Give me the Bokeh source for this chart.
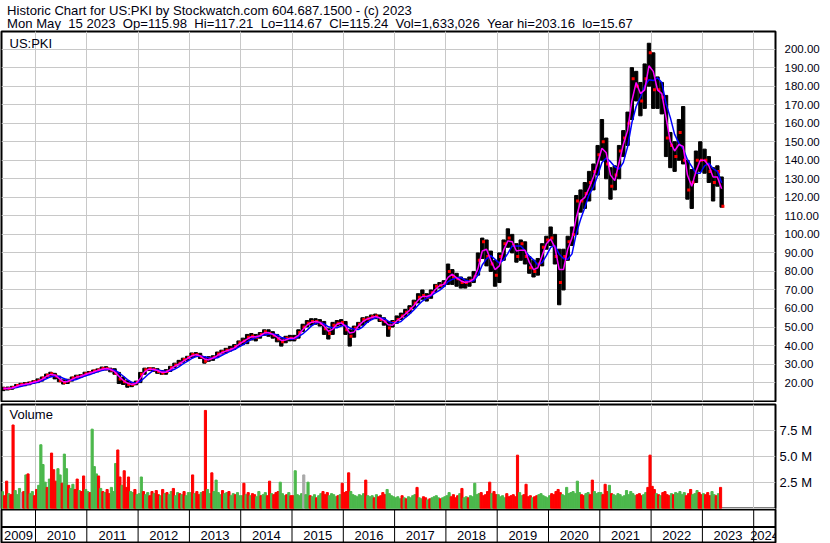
import numpy as np
import pandas as pd
from bokeh.plotting import figure
from bokeh.layouts import column
from bokeh.models import Range1d, FixedTicker, Grid, PrintfTickFormatter
from bokeh.core.properties import value
from bokeh.embed import file_html
from bokeh.resources import INLINE

FONT = "Liberation Sans"
TXT = "#000010"
NB = "\u00a0"

# ---------------- data ----------------
title_line1 = "Historic Chart for US:PKI by Stockwatch.com 604.687.1500 - (c) 2023"
title_line2 = ("Mon May  15 2023  Op=115.98  Hi=117.21  Lo=114.67  Cl=115.24  "
               "Vol=1,633,026  Year hi=203.16  lo=15.67")
symbol = "US:PKI"

# monthly bars, May 2009 .. May 2023
first_year, first_month = 2009, 5
close = [
    16.8, 16.8, 17.3, 18.5, 19.0, 19.2, 19.8, 20.5,
    21.0, 22.5, 24.0, 24.8, 23.5, 21.0, 20.0, 21.0, 22.5, 23.2, 23.6, 24.8,
    25.3, 26.2, 26.8, 27.6, 27.5, 26.8, 25.0, 22.0, 20.5, 19.0, 19.0, 20.0,
    24.5, 27.0, 27.5, 27.0, 26.0, 25.2, 26.0, 28.0, 29.5, 30.5, 32.5, 33.5,
    35.2, 35.0, 34.0, 31.5, 33.0, 33.5, 35.5, 36.5, 37.5, 38.0, 39.5, 41.5,
    42.5, 44.5, 45.0, 44.5, 46.0, 47.5, 46.5, 45.5, 43.5, 42.0, 44.0, 44.0,
    44.0, 47.0, 50.0, 52.0, 53.0, 53.0, 52.0, 49.0, 46.5, 51.0, 52.0, 52.5,
    48.5, 45.0, 49.5, 51.5, 54.0, 54.5, 55.5, 56.0, 54.0, 53.0, 49.5, 52.5,
    54.0, 56.0, 58.0, 60.0, 63.0, 66.0, 67.0, 66.0, 68.5, 72.0, 72.5, 73.5,
    80.0, 77.0, 76.0, 74.0, 74.0, 75.0, 77.0, 86.0, 96.0, 88.0, 84.0, 78.0,
    88.0, 95.0, 98.0, 94.0, 88.0, 95.0, 88.0, 82.0, 80.0, 84.0, 93.0, 97.0,
    98.0, 88.0, 74.0, 88.0, 96.0, 100.0, 118.0, 118.0, 122.0, 128.0, 134.0, 143.0,
    150.0, 138.0, 126.0, 132.0, 145.0, 152.0, 160.0, 184.0, 180.0, 172.0, 184.0, 198.0,
    178.0, 178.0, 174.0, 152.0, 148.0, 142.0, 155.0, 140.0, 124.0, 128.0, 140.0, 140.0,
    140.0, 134.0, 128.0, 134.0, 115.24,
]
high = [
    17.5, 17.6, 18.0, 19.0, 19.6, 20.0, 20.3, 21.0,
    22.0, 23.0, 24.6, 25.6, 25.0, 23.5, 21.5, 21.8, 23.0, 24.0, 24.3, 25.6,
    26.0, 26.8, 27.4, 28.4, 28.6, 27.8, 27.5, 25.5, 23.0, 21.0, 20.2, 20.8,
    25.5, 27.8, 28.0, 28.0, 27.5, 26.5, 27.0, 28.8, 30.5, 32.0, 33.2, 34.2,
    36.0, 36.2, 35.8, 34.0, 34.0, 34.5, 36.5, 37.5, 38.5, 39.5, 40.5, 42.5,
    44.0, 46.0, 46.5, 46.0, 47.0, 48.5, 48.5, 47.5, 46.0, 44.0, 45.0, 45.5,
    45.5, 48.5, 51.5, 53.5, 54.5, 54.5, 54.0, 53.0, 49.0, 52.5, 53.5, 54.0,
    53.0, 48.5, 50.5, 52.5, 55.0, 55.5, 56.5, 57.0, 56.5, 55.0, 53.0, 53.5,
    56.0, 57.5, 59.5, 61.5, 64.5, 68.0, 70.0, 68.0, 70.0, 73.0, 74.0, 75.0,
    84.0, 81.0, 79.0, 77.0, 76.0, 77.0, 80.0, 90.0, 98.0, 97.0, 91.0, 86.0,
    90.0, 97.0, 103.0, 100.0, 95.0, 97.0, 96.0, 88.0, 86.0, 87.0, 95.0, 99.0,
    104.0, 100.0, 92.0, 92.0, 99.0, 104.0, 121.0, 124.0, 128.0, 134.0, 138.0, 148.0,
    162.0, 152.0, 136.0, 137.0, 148.0, 156.0, 166.0, 190.0, 188.0, 182.0, 192.0, 203.16,
    198.0, 185.0, 182.0, 175.0, 155.0, 150.0, 162.0, 169.0, 140.0, 135.0, 145.0, 150.0,
    146.0, 142.0, 136.0, 137.0, 131.0,
]
low = [
    15.67, 16.0, 16.4, 17.3, 18.0, 18.3, 18.8, 19.7,
    20.0, 20.8, 22.5, 23.5, 22.0, 20.5, 19.2, 19.5, 20.8, 22.3, 22.8, 23.6,
    24.3, 25.2, 25.8, 26.6, 26.8, 25.8, 24.5, 19.5, 19.0, 17.5, 17.8, 18.8,
    20.0, 24.5, 26.5, 26.0, 25.0, 24.5, 24.5, 26.0, 28.0, 29.5, 31.0, 32.0,
    33.5, 34.0, 33.0, 30.5, 31.5, 32.0, 33.5, 35.5, 36.0, 37.0, 38.0, 39.5,
    40.5, 41.0, 43.0, 42.5, 44.0, 45.5, 45.0, 44.0, 42.0, 39.7, 41.5, 42.5,
    42.5, 44.0, 47.5, 50.0, 51.0, 51.5, 50.5, 46.0, 43.5, 46.0, 50.5, 51.0,
    46.0, 39.7, 44.5, 49.5, 51.0, 52.5, 54.0, 54.5, 53.0, 51.0, 45.0, 50.0,
    52.0, 54.0, 55.5, 57.5, 60.0, 63.0, 65.0, 64.0, 65.5, 69.0, 71.0, 72.0,
    73.0, 73.0, 72.0, 71.0, 71.0, 72.0, 74.0, 78.0, 87.0, 83.0, 80.0, 72.0,
    74.0, 86.0, 93.0, 90.0, 85.0, 86.0, 84.0, 79.0, 77.0, 78.0, 83.0, 92.0,
    94.0, 84.0, 62.0, 70.0, 86.0, 94.0, 100.0, 112.0, 114.0, 118.0, 124.0, 132.0,
    140.0, 130.0, 119.0, 124.0, 130.0, 142.0, 148.0, 162.0, 172.0, 164.0, 168.0, 180.0,
    168.0, 168.0, 165.0, 142.0, 136.0, 134.0, 140.0, 138.0, 119.0, 114.0, 128.0, 134.0,
    133.0, 128.0, 118.0, 126.0, 114.67,
]

# semi-monthly volume (millions), May 2009 .. first half of May 2023
volume_m = [
    1.6, 1.2, 2.6, 1.4, 1.3, 8.0, 1.7, 1.3, 1.9, 1.5, 1.6, 3.2, 3.3, 1.4, 1.6, 1.2,
    1.8, 2.2, 6.1, 4.2, 2.5, 2.0, 2.8, 5.3, 3.7, 2.6, 3.8, 3.2, 2.4, 5.2, 3.8, 2.2, 1.9, 2.3, 1.8, 2.8, 1.7, 1.6, 3.1, 1.8,
    1.6, 1.5, 7.6, 4.0, 3.3, 3.1, 1.9, 1.6, 1.5, 1.8, 1.4, 2.0, 1.6, 4.3, 5.6, 3.0, 2.2, 3.6, 2.0, 3.0, 1.6, 1.5, 1.8, 1.3,
    1.4, 3.0, 1.6, 1.3, 1.5, 1.2, 1.6, 1.4, 1.7, 1.3, 1.2, 1.8, 1.4, 1.5, 1.3, 1.6, 1.9, 1.2, 1.5, 1.4, 1.3, 1.6, 1.2, 1.5,
    1.5, 3.2, 1.4, 1.6, 1.3, 1.5, 1.6, 9.4, 1.8, 1.4, 3.4, 1.6, 2.7, 1.5, 1.3, 1.7, 1.4, 1.5, 1.6, 1.2, 1.4, 1.3, 1.5, 1.2,
    1.2, 2.4, 1.3, 1.5, 1.2, 1.4, 1.3, 1.1, 1.6, 1.2, 1.3, 1.5, 1.2, 2.6, 1.4, 1.3, 1.5, 1.6, 2.5, 1.4, 1.2, 1.3, 1.5, 1.2,
    1.2, 3.6, 1.3, 1.2, 1.4, 3.2, 1.3, 2.5, 1.2, 1.1, 1.3, 1.0, 1.2, 1.4, 1.6, 1.3, 1.5, 1.2, 1.4, 1.3, 1.1, 1.2, 1.3, 2.4,
    1.5, 1.6, 3.4, 1.6, 1.3, 1.2, 1.1, 1.3, 1.2, 1.4, 2.7, 1.2, 1.1, 1.2, 1.0, 1.3, 1.1, 1.2, 1.5, 1.3, 1.8, 1.4, 1.2, 1.1,
    1.0, 1.1, 0.9, 1.2, 1.0, 0.9, 1.1, 1.0, 1.2, 1.3, 2.0, 1.0, 0.9, 1.1, 1.0, 0.8, 0.9, 1.0, 1.1, 1.2, 1.0, 0.9, 1.0, 1.1,
    1.2, 1.5, 1.1, 1.3, 1.0, 1.2, 1.4, 1.9, 1.0, 1.1, 1.0, 1.2, 1.1, 2.4, 1.3, 1.4, 1.5, 1.2, 1.3, 1.6, 2.5, 1.4, 1.6, 1.3,
    1.3, 1.1, 1.2, 1.0, 1.4, 1.1, 1.2, 1.3, 1.1, 5.1, 1.5, 1.2, 1.3, 2.3, 1.1, 1.2, 1.0, 1.1, 1.2, 1.3, 1.4, 1.2, 1.1, 1.0,
    1.2, 1.4, 1.3, 1.6, 1.8, 1.5, 1.3, 1.2, 2.0, 1.4, 1.5, 1.6, 1.4, 2.6, 1.5, 1.3, 1.2, 1.4, 1.5, 1.3, 2.7, 1.6, 1.4, 1.5,
    1.5, 1.3, 2.3, 1.6, 2.2, 1.4, 1.3, 1.2, 1.4, 1.3, 1.1, 1.2, 1.7, 1.3, 1.6, 1.4, 1.2, 1.3, 1.4, 1.2, 1.3, 1.5, 2.0, 5.1,
    2.1, 1.8, 1.4, 1.3, 1.2, 1.5, 1.6, 1.3, 1.2, 1.4, 1.3, 1.5, 1.4, 1.6, 1.3, 1.5, 1.2, 1.4, 1.8, 1.3, 1.4, 1.7, 1.5, 1.3,
    1.4, 1.3, 1.5, 1.2, 1.6, 1.3, 1.2, 1.4, 2.0,
]
# direction of each volume bar: r = down, g = up, n = unchanged
volume_dir_by_year = [
    "grrgrr gggnrg rggr",
    "rggggr grrrgg rggrgg rrgrrg",
    "grgggr grgrrg ggrrgr rrggrg",
    "ggrggr rgrrgr grggrg grgrgg",
    "grgrrg rrggrg gggrgg rggrgg",
    "grgrgr rggrgg rrgrrr gggrgr",
    "rggggn ggrggr ggrrrg gggrgr",
    "rrrggg ggggrg ggrgrr rrgggg",
    "gggrgr ggggrg grrgrg gggrgg",
    "ggrrrr grggrg ggggrr rrrgrr",
    "ggggrr rrrrgg rrrrgr rggggg",
    "grrrrr gggggg gggrrg grrggg",
    "grrrgr gggggg gggggr rrggrr",
    "rrgrgr rrrgrg ggggrr rgggrr",
    "grrrgg rgr",
]
volume_dir = "".join(s.replace(" ", "") for s in volume_dir_by_year)

years = list(range(2009, 2025))
price_ticks = list(range(20, 201, 10))
vol_ticks = [2.5e6, 5.0e6, 7.5e6]
vol_labels = ["2.5 M", "5.0 M", "7.5 M"]
x_start, x_end = 2009.337, 2024.425
price_lo, price_hi = 9.8, 209.5
vol_lo, vol_hi = -0.125e6, 9.97e6

# ---------------- derived ----------------
n = len(close)
t_month = np.array([first_year + (first_month - 1 + i + 0.5) / 12.0 for i in range(n)])
cs = pd.Series(close)
ma_short = cs.rolling(2, min_periods=1).mean().values
ma_long = cs.rolling(4, min_periods=1).mean().values

nv = len(volume_m)
t_half = np.array([first_year + (first_month - 1) / 12.0 + (i + 0.5) / 24.0 for i in range(nv)])
vol = np.array(volume_m) * 1e6
cmap = {"r": "#FF0000", "g": "#4CB84C", "n": "#A8A8A8"}
vcol = [cmap[c] for c in volume_dir[:nv]]
while len(vcol) < nv:
    vcol.append(cmap["g"])

# ---------------- layout ----------------
W = 830
RIGHT = 55
LEFT = 1
FW = W - LEFT - RIGHT
GRID = "#C8C8C8"

xr = Range1d(x_start, x_end)


def px2x(px):
    return x_start + px / FW * (x_end - x_start)


def keep_spaces(s):
    return s.replace("  ", " " + NB)


def base_fig(**kw):
    return figure(output_backend="svg", toolbar_location=None, title=None, **kw)


# title strip
TH = 30
t = base_fig(width=W, height=TH, x_range=Range1d(0, W), y_range=Range1d(TH, 0),
             x_axis_location=None, y_axis_location=None,
             min_border_left=0, min_border_right=0, min_border_top=0, min_border_bottom=0,
             outline_line_color=None)
t.xgrid.visible = False
t.ygrid.visible = False
t.text(x=[6, 6], y=[9.5, 23], text=[title_line1, keep_spaces(title_line2)],
       text_font=value(FONT), text_font_size=value("13.1px"),
       text_color=TXT, text_baseline="middle", text_align="left")

# price panel
PH = 372
p = base_fig(width=W, height=PH, x_range=xr, y_range=Range1d(price_lo, price_hi),
             x_axis_location=None, y_axis_location="right",
             min_border_left=LEFT, min_border_right=RIGHT,
             min_border_top=1, min_border_bottom=1)
p.outline_line_color = "black"
p.outline_line_width = 2
p.yaxis.ticker = FixedTicker(ticks=price_ticks)
p.yaxis.formatter = PrintfTickFormatter(format="%.2f")
p.yaxis.axis_line_color = None
p.yaxis.major_tick_line_color = None
p.yaxis.minor_tick_line_color = None
p.yaxis.major_tick_out = 0
p.yaxis.major_tick_in = 0
p.yaxis.major_label_standoff = 9
p.yaxis.major_label_text_font = FONT
p.yaxis.major_label_text_font_size = "11.5px"
p.yaxis.major_label_text_color = TXT
p.ygrid.grid_line_color = GRID
p.add_layout(Grid(dimension=0, ticker=FixedTicker(ticks=years[1:]), grid_line_color=GRID))

p.vbar(x=t_month, top=high, bottom=low, width=1 / 12 * 0.78, color="black")
p.scatter(x=t_month + 1 / 40, y=close, marker="square", size=3, color="#FF0000", line_color=None)
p.line(x=t_month, y=ma_long, color="#0000FF", line_width=1.5)
p.line(x=t_month, y=ma_short, color="#FF00FF", line_width=1.5)
ph_frame = PH - 2
p.text(x=[px2x(8)], y=[price_hi - 12 / ph_frame * (price_hi - price_lo)], text=[symbol],
       text_font=value(FONT), text_font_size=value("13px"), text_color=TXT,
       text_baseline="middle")

# volume panel
VH = 107
v = base_fig(width=W, height=VH, x_range=xr, y_range=Range1d(vol_lo, vol_hi),
             x_axis_location=None, y_axis_location="right",
             min_border_left=LEFT, min_border_right=RIGHT,
             min_border_top=2, min_border_bottom=0)
v.outline_line_color = "black"
v.outline_line_width = 2
v.yaxis.ticker = FixedTicker(ticks=vol_ticks)
v.yaxis.major_label_overrides = {k: s for k, s in zip(vol_ticks, vol_labels)}
v.yaxis.axis_line_color = None
v.yaxis.major_tick_line_color = None
v.yaxis.minor_tick_line_color = None
v.yaxis.major_tick_out = 0
v.yaxis.major_tick_in = 0
v.yaxis.major_label_standoff = 4
v.yaxis.major_label_text_font = FONT
v.yaxis.major_label_text_font_size = "13px"
v.yaxis.major_label_text_color = TXT
v.ygrid.visible = False
v.add_layout(Grid(dimension=1, ticker=FixedTicker(ticks=[0] + vol_ticks), grid_line_color=GRID))
v.add_layout(Grid(dimension=0, ticker=FixedTicker(ticks=years[1:]), grid_line_color=GRID))
v.vbar(x=t_half, top=vol, bottom=0, width=1 / 24, color=vcol)
vh_frame = VH - 2
v.text(x=[px2x(8)], y=[vol_hi - 10 / vh_frame * (vol_hi - vol_lo)], text=["Volume"],
       text_font=value(FONT), text_font_size=value("13px"), text_color=TXT,
       text_baseline="middle")

# date strip
DH = 34
d = base_fig(width=W, height=DH, x_range=xr, y_range=Range1d(0, DH - 1),
             x_axis_location=None, y_axis_location=None,
             min_border_left=LEFT, min_border_right=RIGHT,
             min_border_top=0, min_border_bottom=1)
d.outline_line_color = "black"
d.outline_line_width = 2
d.xgrid.visible = False
d.ygrid.visible = False
d.segment(x0=years[1:], y0=[0] * (len(years) - 1), x1=years[1:], y1=[DH] * (len(years) - 1),
          color="black", line_width=1)
d.segment(x0=[x_start], y0=[15.5], x1=[x_end], y1=[15.5], color="black", line_width=2)
centers = [(max(y, x_start) + min(y + 1, x_end)) / 2 for y in years]
d.text(x=centers, y=[7] * len(years), text=[str(y) for y in years],
       text_font=value(FONT), text_font_size=value("13px"), text_color=TXT,
       text_baseline="middle", text_align="center")

layout = column(t, p, v, d, spacing=0)
open("out.html", "w").write(file_html(layout, INLINE))
